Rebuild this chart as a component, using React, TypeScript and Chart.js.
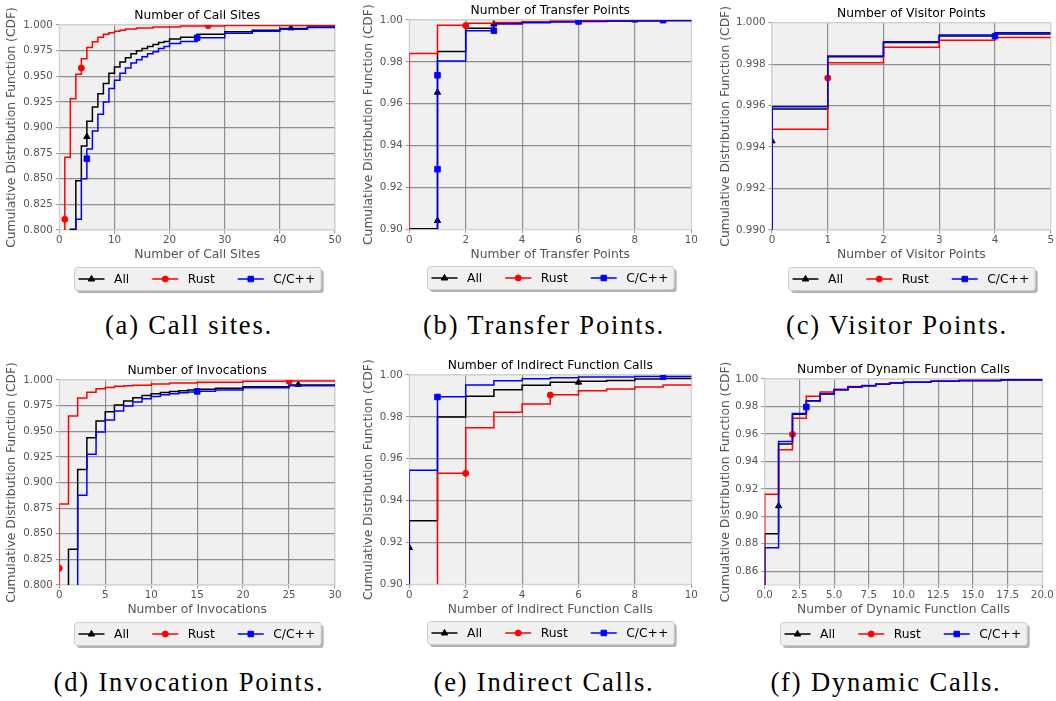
import React, { useEffect, useRef } from "react";
import { Chart, registerables } from "chart.js";

Chart.register(...registerables);

type Pt = [number, number];

// ---------------- (a) Number of Call Sites ----------------
const callSitesAll: Pt[] = [[0, 0.7], [2, 0.8007], [3, 0.848], [4, 0.882], [5, 0.906], [6, 0.92], [7, 0.933], [8, 0.943], [9, 0.953], [10, 0.959], [11, 0.964], [12, 0.968], [13, 0.972], [14, 0.975], [15, 0.977], [16, 0.979], [17, 0.981], [18, 0.983], [19, 0.984], [20, 0.9863], [22, 0.988], [25, 0.991], [30, 0.9935], [35, 0.995], [40, 0.9965], [45, 0.998], [50, 0.9988]];
const callSitesRust: Pt[] = [[0, 0.7], [1, 0.871], [2, 0.928], [3, 0.952], [4, 0.967], [5, 0.978], [6, 0.9837], [7, 0.988], [8, 0.9909], [9, 0.9925], [10, 0.9938], [11, 0.995], [12, 0.996], [14, 0.997], [17, 0.998], [22, 0.999], [30, 0.9995], [50, 0.9998]];
const callSitesCpp: Pt[] = [[0, 0.7], [3, 0.8104], [4, 0.85], [5, 0.879], [6, 0.8966], [7, 0.913], [8, 0.925], [9, 0.938], [10, 0.946], [11, 0.953], [12, 0.958], [13, 0.963], [14, 0.966], [15, 0.969], [16, 0.972], [17, 0.974], [18, 0.977], [19, 0.979], [20, 0.982], [22, 0.984], [25, 0.9876], [30, 0.9919], [35, 0.994], [40, 0.9958], [45, 0.9975], [50, 0.9987]];
const callSitesAllMarks: Pt[] = [[5, 0.891], [42, 0.997]];
const callSitesRustMarks: Pt[] = [[1, 0.8104], [4, 0.958], [27, 0.9993]];
const callSitesCppMarks: Pt[] = [[5, 0.8696], [25, 0.9876]];
const callSitesXTicks = [0, 10, 20, 30, 40, 50];
const callSitesYTicks = [0.8, 0.825, 0.85, 0.875, 0.9, 0.925, 0.95, 0.975, 1.0];

// ---------------- (b) Number of Transfer Points ----------------
const transferAll: Pt[] = [[0, 0.9003], [1, 0.9849], [2, 0.996], [3, 0.9984], [4, 0.999], [5, 0.9993], [6, 0.9995], [8, 0.9998], [10, 0.9999]];
const transferRust: Pt[] = [[0, 0.85], [0, 0.984], [1, 0.9975], [2, 0.9984], [3, 0.9988], [4, 0.9991], [5, 0.9994], [6, 0.9996], [8, 0.9998], [10, 0.9999]];
const transferCpp: Pt[] = [[0, 0.85], [1, 0.9804], [2, 0.9949], [3, 0.9981], [4, 0.9987], [5, 0.999], [6, 0.9993], [7, 0.9995], [9, 0.9998], [10, 0.9999]];
const transferAllMarks: Pt[] = [[1, 0.9041], [1, 0.9654], [3, 0.998], [8, 0.9999]];
const transferRustMarks: Pt[] = [[2, 0.9973]];
const transferCppMarks: Pt[] = [[1, 0.9287], [1, 0.9736], [3, 0.9949], [6, 0.9993], [9, 0.9999]];
const transferXTicks = [0, 2, 4, 6, 8, 10];
const transferYTicks = [0.9, 0.92, 0.94, 0.96, 0.98, 1.0];

// ---------------- (c) Number of Visitor Points ----------------
const visitorAll: Pt[] = [[0, 0.98], [0, 0.99584], [1, 0.99836], [2, 0.99905], [3, 0.99936], [4, 0.99945], [5, 0.99945]];
const visitorRust: Pt[] = [[0, 0.98], [0, 0.99486], [1, 0.99807], [2, 0.99881], [3, 0.99915], [4, 0.99929], [5, 0.99929]];
const visitorCpp: Pt[] = [[0, 0.98], [0, 0.99595], [1, 0.99839], [2, 0.99908], [3, 0.99941], [4, 0.99952], [5, 0.99952]];
const visitorAllMarks: Pt[] = [[0, 0.99429]];
const visitorRustMarks: Pt[] = [[1, 0.99733]];
const visitorCppMarks: Pt[] = [[4, 0.99935]];
const visitorXTicks = [0, 1, 2, 3, 4, 5];
const visitorYTicks = [0.99, 0.992, 0.994, 0.996, 0.998, 1.0];

// ---------------- (d) Number of Invocations ----------------
const invocAll: Pt[] = [[0, 0.7], [1, 0.8348], [2, 0.9128], [3, 0.9437], [4, 0.96], [5, 0.9691], [6, 0.9756], [7, 0.9795], [8, 0.9828], [9, 0.985], [10, 0.9867], [11, 0.9878], [12, 0.9888], [13, 0.9896], [14, 0.9903], [15, 0.9909], [17, 0.992], [20, 0.9935], [25, 0.9951], [30, 0.996]];
const invocRust: Pt[] = [[0, 0.7], [0, 0.879], [1, 0.965], [2, 0.9824], [3, 0.988], [4, 0.9915], [5, 0.9928], [6, 0.9938], [7, 0.9945], [8, 0.995], [10, 0.9962], [12, 0.997], [15, 0.9978], [20, 0.9987], [25, 0.999], [30, 0.9992]];
const invocCpp: Pt[] = [[0, 0.7], [2, 0.8875], [3, 0.9275], [4, 0.9493], [5, 0.961], [6, 0.9698], [7, 0.9746], [8, 0.9785], [9, 0.9818], [10, 0.984], [11, 0.9855], [12, 0.9867], [13, 0.9876], [14, 0.9884], [15, 0.989], [17, 0.9902], [20, 0.9925], [25, 0.9944], [30, 0.9956]];
const invocAllMarks: Pt[] = [[26, 0.9955]];
const invocRustMarks: Pt[] = [[0, 0.8163], [25, 0.9987]];
const invocCppMarks: Pt[] = [[15, 0.9889]];
const invocXTicks = [0, 5, 10, 15, 20, 25, 30];
const invocYTicks = [0.8, 0.825, 0.85, 0.875, 0.9, 0.925, 0.95, 0.975, 1.0];

// ---------------- (e) Number of Indirect Function Calls ----------------
const indirectAll: Pt[] = [[0, 0.85], [0, 0.9304], [1, 0.9799], [2, 0.9898], [3, 0.993], [4, 0.9951], [5, 0.9965], [6, 0.997], [7, 0.9974], [8, 0.9981], [9, 0.9983], [10, 0.9985]];
const indirectRust: Pt[] = [[0, 0.85], [1, 0.953], [2, 0.9748], [3, 0.9822], [4, 0.9861], [5, 0.9906], [6, 0.9925], [7, 0.9933], [8, 0.9943], [9, 0.9952], [10, 0.9955]];
const indirectCpp: Pt[] = [[0, 0.85], [0, 0.9545], [1, 0.9896], [2, 0.9952], [3, 0.9973], [4, 0.9982], [5, 0.9987], [6, 0.999], [8, 0.9993], [10, 0.9995]];
const indirectAllMarks: Pt[] = [[0, 0.9175], [6, 0.9965]];
const indirectRustMarks: Pt[] = [[2, 0.953], [5, 0.9904]];
const indirectCppMarks: Pt[] = [[1, 0.9895], [9, 0.9992]];
const indirectXTicks = [0, 2, 4, 6, 8, 10];
const indirectYTicks = [0.9, 0.92, 0.94, 0.96, 0.98, 1.0];

// ---------------- (f) Number of Dynamic Function Calls ----------------
const dynamicAll: Pt[] = [[0, 0.8], [0, 0.8874], [1, 0.9527], [2, 0.9743], [3, 0.9842], [4, 0.9891], [5, 0.9922], [6, 0.994], [7, 0.9951], [8, 0.9962], [9, 0.997], [10, 0.9976], [12, 0.9984], [14, 0.9989], [17, 0.9993], [20, 0.9996]];
const dynamicRust: Pt[] = [[0, 0.8], [0, 0.916], [1, 0.9485], [2, 0.9714], [3, 0.9874], [4, 0.9906], [5, 0.9925], [6, 0.9946], [7, 0.9953], [8, 0.9964], [9, 0.997], [10, 0.9977], [12, 0.9983], [14, 0.9988], [17, 0.9994], [20, 0.9997]];
const dynamicCpp: Pt[] = [[0, 0.8], [0, 0.8772], [1, 0.9544], [2, 0.9748], [3, 0.984], [4, 0.9893], [5, 0.9922], [6, 0.9942], [7, 0.9951], [8, 0.9962], [9, 0.997], [10, 0.9976], [12, 0.9984], [14, 0.9989], [17, 0.9994], [20, 0.9997]];
const dynamicAllMarks: Pt[] = [[1, 0.9075]];
const dynamicRustMarks: Pt[] = [[2, 0.9597]];
const dynamicCppMarks: Pt[] = [[3, 0.9796]];
const dynamicXTicks = [0, 2.5, 5, 7.5, 10, 12.5, 15, 17.5, 20];
const dynamicYTicks = [0.86, 0.88, 0.9, 0.92, 0.94, 0.96, 0.98, 1.0];

const seriesLabels = ["All", "Rust", "C/C++"];
const captions = ["(a) Call sites.", "(b) Transfer Points.", "(c) Visitor Points.", "(d) Invocation Points.", "(e) Indirect Calls.", "(f) Dynamic Calls."];

// ---------------- layout / style ----------------
const FONT = "DejaVu Sans";
const SERIES_STYLE = [
  { color: "#000000", style: "triangle", radius: 3.6 },
  { color: "#ff0000", style: "circle", radius: 3.0 },
  { color: "#0000ff", style: "rect", radius: 3.9 },
];

interface Panel {
  cellX: number; cellY: number;
  L: number; R: number; T: number; B: number;
  yTitleX: number;
  title: string; xLabel: string;
  xMin: number; xMax: number; yMin: number; yMax: number;
  xTicks: number[]; yTicks: number[];
  xDec: number; yDec: number;
  lines: Pt[][]; marks: Pt[][];
  caption: string; capX: number; capY: number;
}

const PANELS: Panel[] = [
  { cellX: 0, cellY: 0, L: 59.3, R: 335, T: 25, B: 230, yTitleX: 12.3,
    title: "Number of Call Sites", xLabel: "Number of Call Sites",
    xMin: 0, xMax: 50, yMin: 0.8, yMax: 1.0, xTicks: callSitesXTicks, yTicks: callSitesYTicks, xDec: 0, yDec: 3,
    lines: [callSitesAll, callSitesRust, callSitesCpp], marks: [callSitesAllMarks, callSitesRustMarks, callSitesCppMarks],
    caption: captions[0], capX: 189, capY: 325.3 },
  { cellX: 352, cellY: 0, L: 409.3, R: 691.3, T: 20, B: 229.3, yTitleX: 368.7,
    title: "Number of Transfer Points", xLabel: "Number of Transfer Points",
    xMin: 0, xMax: 10, yMin: 0.9, yMax: 1.0, xTicks: transferXTicks, yTicks: transferYTicks, xDec: 0, yDec: 2,
    lines: [transferAll, transferRust, transferCpp], marks: [transferAllMarks, transferRustMarks, transferCppMarks],
    caption: captions[1], capX: 544, capY: 325.3 },
  { cellX: 704, cellY: 0, L: 772, R: 1050.7, T: 22.7, B: 230, yTitleX: 725.7,
    title: "Number of Visitor Points", xLabel: "Number of Visitor Points",
    xMin: 0, xMax: 5, yMin: 0.99, yMax: 1.0, xTicks: visitorXTicks, yTicks: visitorYTicks, xDec: 0, yDec: 3,
    lines: [visitorAll, visitorRust, visitorCpp], marks: [visitorAllMarks, visitorRustMarks, visitorCppMarks],
    caption: captions[2], capX: 897, capY: 325.3 },
  { cellX: 0, cellY: 355, L: 59.3, R: 335, T: 380, B: 585, yTitleX: 12.3,
    title: "Number of Invocations", xLabel: "Number of Invocations",
    xMin: 0, xMax: 30, yMin: 0.8, yMax: 1.0, xTicks: invocXTicks, yTicks: invocYTicks, xDec: 0, yDec: 3,
    lines: [invocAll, invocRust, invocCpp], marks: [invocAllMarks, invocRustMarks, invocCppMarks],
    caption: captions[3], capX: 189, capY: 682 },
  { cellX: 352, cellY: 355, L: 409.3, R: 691.3, T: 375, B: 584.3, yTitleX: 368.7,
    title: "Number of Indirect Function Calls", xLabel: "Number of Indirect Function Calls",
    xMin: 0, xMax: 10, yMin: 0.9, yMax: 1.0, xTicks: indirectXTicks, yTicks: indirectYTicks, xDec: 0, yDec: 2,
    lines: [indirectAll, indirectRust, indirectCpp], marks: [indirectAllMarks, indirectRustMarks, indirectCppMarks],
    caption: captions[4], capX: 544, capY: 682 },
  { cellX: 704, cellY: 355, L: 764.7, R: 1042.3, T: 379, B: 585, yTitleX: 725.7,
    title: "Number of Dynamic Function Calls", xLabel: "Number of Dynamic Function Calls",
    xMin: 0, xMax: 20, yMin: 0.85, yMax: 1.0, xTicks: dynamicXTicks, yTicks: dynamicYTicks, xDec: 1, yDec: 2,
    lines: [dynamicAll, dynamicRust, dynamicCpp], marks: [dynamicAllMarks, dynamicRustMarks, dynamicCppMarks],
    caption: captions[5], capX: 886, capY: 682 },
];

const CELL_W = 352;
const CELL_H = 300;
const X_AXIS_H = 32.4;
const GRID = "#8e8e8e";
const EDGE = "#d2d2d2";
const TICK_COLOR = "#555555";

function drawMarker(ctx: CanvasRenderingContext2D, style: string, x: number, y: number, color: string) {
  ctx.fillStyle = color;
  ctx.strokeStyle = color;
  ctx.lineWidth = 1;
  ctx.beginPath();
  if (style === "circle") {
    ctx.arc(x, y, 3, 0, Math.PI * 2);
  } else if (style === "rect") {
    ctx.rect(x - 2.75, y - 2.75, 5.5, 5.5);
  } else {
    ctx.moveTo(x, y - 3.6);
    ctx.lineTo(x + 3.2, y + 2);
    ctx.lineTo(x - 3.2, y + 2);
    ctx.closePath();
  }
  ctx.fill();
  ctx.stroke();
}

function rr(ctx: CanvasRenderingContext2D, x: number, y: number, w: number, h: number, r: number) {
  ctx.beginPath();
  ctx.moveTo(x + r, y);
  ctx.lineTo(x + w - r, y);
  ctx.arcTo(x + w, y, x + w, y + r, r);
  ctx.lineTo(x + w, y + h - r);
  ctx.arcTo(x + w, y + h, x + w - r, y + h, r);
  ctx.lineTo(x + r, y + h);
  ctx.arcTo(x, y + h, x, y + h - r, r);
  ctx.lineTo(x, y + r);
  ctx.arcTo(x, y, x + r, y, r);
  ctx.closePath();
}

const decorPlugin = {
  id: "decor",
  beforeDraw(chart: any) {
    const { ctx, chartArea: a } = chart;
    ctx.save();
    ctx.fillStyle = "#f0f0f0";
    ctx.fillRect(a.left, a.top, a.right - a.left, a.bottom - a.top);
    ctx.restore();
  },
  beforeDatasetsDraw(chart: any) {
    const { ctx, chartArea: a } = chart;
    ctx.save();
    ctx.strokeStyle = EDGE;
    ctx.lineWidth = 1;
    ctx.strokeRect(a.left, a.top, a.right - a.left, a.bottom - a.top);
    ctx.restore();
  },
  afterDraw(chart: any, _args: any, opts: any) {
    const { ctx, chartArea: a } = chart;
    ctx.save();
    ctx.font = `12.3px "${FONT}"`;
    ctx.fillStyle = "#000";
    ctx.textAlign = "center";
    ctx.textBaseline = "middle";
    ctx.fillText(opts.title, (a.left + a.right) / 2, a.top - 9.3);

    const handle = 26, gap = 9.5, col = 23, padL = 4, padR = 6, bh = 23;
    const widths = seriesLabels.map((l) => ctx.measureText(l).width);
    let total = padL + padR + col * (seriesLabels.length - 1);
    widths.forEach((w) => (total += handle + gap + w));
    const bx = Math.round((a.left + a.right) / 2 - total / 2) + 0.5;
    const by = Math.round(a.bottom + 37) + 0.5;
    rr(ctx, bx + 2.5, by + 2.5, total, bh, 3);
    ctx.fillStyle = "#b3b3b3";
    ctx.fill();
    rr(ctx, bx, by, total, bh, 3);
    ctx.fillStyle = "#f0f0f0";
    ctx.fill();
    ctx.strokeStyle = "#cccccc";
    ctx.lineWidth = 1;
    ctx.stroke();
    let x = bx + padL;
    const ym = by + bh / 2;
    seriesLabels.forEach((label, i) => {
      const s = SERIES_STYLE[i];
      ctx.strokeStyle = s.color;
      ctx.lineWidth = 1.5;
      ctx.beginPath();
      ctx.moveTo(x, ym);
      ctx.lineTo(x + handle, ym);
      ctx.stroke();
      drawMarker(ctx, s.style, x + handle / 2, ym, s.color);
      ctx.fillStyle = "#000";
      ctx.textAlign = "left";
      ctx.textBaseline = "middle";
      ctx.fillText(label, x + handle + gap, ym + 0.5);
      x += handle + gap + widths[i] + col;
    });
    ctx.restore();
  },
};

function buildConfig(p: Panel): any {
  const yAxisW = p.L - p.cellX;
  const padTop = p.T - p.cellY;
  const padRight = p.cellX + CELL_W - p.R;
  const padBottom = p.cellY + CELL_H - p.B - X_AXIS_H;
  const toXY = (pts: Pt[]) => pts.map(([x, y]) => ({ x, y }));
  const datasets: any[] = [];
  seriesLabels.forEach((label, i) => {
    const s = SERIES_STYLE[i];
    datasets.push({
      label,
      data: toXY(p.lines[i]),
      borderColor: s.color,
      backgroundColor: s.color,
      borderWidth: 1.5,
      pointRadius: 0,
      pointHitRadius: 0,
      stepped: "before",
      fill: false,
      order: (2 - i) * 2 + 1,
    });
    datasets.push({
      label: label + " markers",
      data: toXY(p.marks[i]),
      showLine: false,
      borderColor: s.color,
      backgroundColor: s.color,
      pointStyle: s.style,
      pointRadius: s.radius,
      pointBorderWidth: 1,
      order: (2 - i) * 2,
      clip: 0,
    });
  });
  const gridColor = (min: number, max: number) => (c: any) => {
    const v = c.tick ? c.tick.value : NaN;
    return Math.abs(v - min) < 1e-9 || Math.abs(v - max) < 1e-9 ? EDGE : GRID;
  };
  return {
    type: "line",
    data: { datasets },
    plugins: [decorPlugin],
    options: {
      animation: false,
      responsive: false,
      maintainAspectRatio: false,
      devicePixelRatio: 1,
      events: [],
      layout: { padding: { left: 0, top: padTop, right: padRight, bottom: padBottom } },
      plugins: {
        legend: { display: false },
        title: { display: false },
        tooltip: { enabled: false },
        decor: { title: p.title },
      },
      scales: {
        x: {
          type: "linear",
          min: p.xMin,
          max: p.xMax,
          afterBuildTicks: (s: any) => { s.ticks = p.xTicks.map((v) => ({ value: v })); },
          afterFit: (s: any) => { s.height = X_AXIS_H; },
          ticks: {
            callback: (v: any) => Number(v).toFixed(p.xDec),
            color: TICK_COLOR,
            font: { family: FONT, size: 10.3 },
            padding: 1,
            maxRotation: 0,
            autoSkip: false,
          },
          grid: { color: gridColor(p.xMin, p.xMax), lineWidth: 1.2, drawTicks: true, tickLength: 3.5, tickColor: "#8e8e8e", tickWidth: 1 },
          border: { display: false },
          title: { display: true, text: p.xLabel, color: TICK_COLOR, font: { family: FONT, size: 12.3 }, padding: { top: 0, bottom: 0 } },
        },
        y: {
          type: "linear",
          min: p.yMin,
          max: p.yMax,
          afterBuildTicks: (s: any) => { s.ticks = p.yTicks.map((v) => ({ value: v })); },
          afterFit: (s: any) => { s.width = yAxisW; },
          ticks: {
            callback: (v: any) => Number(v).toFixed(p.yDec),
            color: TICK_COLOR,
            font: { family: FONT, size: 10.3 },
            padding: 3,
            autoSkip: false,
          },
          grid: { color: gridColor(p.yMin, p.yMax), lineWidth: 1.2, drawTicks: true, tickLength: 3.5, tickColor: "#8e8e8e", tickWidth: 1 },
          border: { display: false },
          title: { display: true, text: "Cumulative Distribution Function (CDF)", color: TICK_COLOR, font: { family: FONT, size: 12.3 }, padding: { top: p.yTitleX - p.cellX - 7.38, bottom: 0 } },
        },
      },
    },
  };
}

function ChartPanel({ p }: { p: Panel }) {
  const ref = useRef<HTMLCanvasElement | null>(null);
  useEffect(() => {
    if (!ref.current) return;
    const chart = new Chart(ref.current, buildConfig(p));
    return () => chart.destroy();
  }, [p]);
  return (
    <canvas
      ref={ref}
      width={CELL_W}
      height={CELL_H}
      style={{ position: "absolute", left: p.cellX, top: p.cellY, width: CELL_W, height: CELL_H }}
    />
  );
}

export default function App() {
  useEffect(() => {
    document.body.style.margin = "0";
    document.body.style.background = "#ffffff";
  }, []);
  return (
    <div style={{ position: "absolute", left: 0, top: 0, width: 1056, height: 701, background: "#ffffff", overflow: "hidden" }}>
      {PANELS.map((p, i) => (
        <ChartPanel key={i} p={p} />
      ))}
      {PANELS.map((p, i) => (
        <div
          key={"c" + i}
          style={{
            position: "absolute",
            left: p.capX,
            top: p.capY,
            transform: "translate(-50%, -50%)",
            whiteSpace: "nowrap",
            fontFamily: '"Liberation Serif", serif',
            fontSize: 26.6,
            letterSpacing: 1.8,
            color: "#000",
            lineHeight: 1,
          }}
        >
          {p.caption}
        </div>
      ))}
    </div>
  );
}
